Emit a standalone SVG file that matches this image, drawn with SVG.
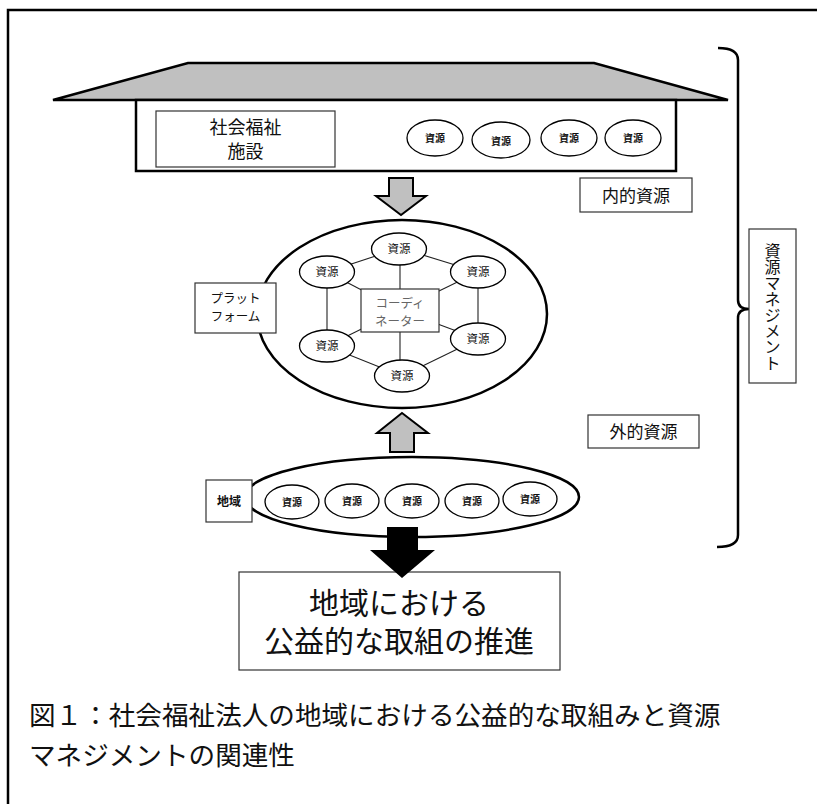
<svg xmlns="http://www.w3.org/2000/svg" width="817" height="804" viewBox="0 0 817 804">
<style>
text{font-family:"Liberation Serif","Noto Sans CJK JP",sans-serif;fill:#111;}
.thick{stroke:#000;stroke-width:2.5;fill:#fff;}
.box{stroke:#333;stroke-width:1.2;fill:#fff;}
.res{stroke:#000;stroke-width:1.3;fill:#fff;}
.rt{font-size:10px;text-anchor:middle;font-weight:bold;}
.rh{font-size:11.5px;text-anchor:middle;}
.line{stroke:#222;stroke-width:1.1;fill:none;}
.grey{fill:#c0c0c0;stroke:#000;stroke-width:2;stroke-linejoin:miter;}
.c{text-anchor:middle;}
</style>
<rect width="817" height="804" fill="#fff"/>
<path d="M8,804 L8,10 L817,10" fill="none" stroke="#000" stroke-width="2.5"/>

<g id="facility">
  <polygon points="53,100 188,63 594,63 728,100" fill="#c0c0c0" stroke="#000" stroke-width="2.5" stroke-linejoin="miter"/>
  <rect x="136" y="100" width="540" height="71" class="thick"/>
  <rect x="156" y="111" width="179" height="56" class="box"/>
  <text x="245.5" y="134" class="c" font-size="18">社会福祉</text>
  <text x="245.5" y="158" class="c" font-size="18">施設</text>
  <ellipse cx="435" cy="138" rx="28" ry="18" class="res"/>
  <text x="435" y="142" class="rt">資源</text>
  <ellipse cx="501" cy="140" rx="29" ry="18" class="res"/>
  <text x="501" y="145" class="rt">資源</text>
  <ellipse cx="569" cy="138" rx="28" ry="18" class="res"/>
  <text x="569" y="142" class="rt">資源</text>
  <ellipse cx="633" cy="138" rx="28" ry="18" class="res"/>
  <text x="633" y="142" class="rt">資源</text>
</g>

<g id="internal">
  <rect x="580" y="178" width="112" height="34" class="box"/>
  <text x="636" y="202" class="c" font-size="17">内的資源</text>
</g>

<g id="external">
  <rect x="588" y="415" width="111" height="33" class="box"/>
  <text x="643.5" y="438" class="c" font-size="17">外的資源</text>
</g>

<g id="bracket">
  <path d="M718,48 Q738,48 738,60 L738,300 Q738,309 749,309 Q738,309 738,318 L738,535 Q738,547 717,547" fill="none" stroke="#000" stroke-width="2.5"/>
</g>

<g id="management">
  <rect x="749" y="229" width="47" height="154" class="box"/>
  <text x="772.5 772.5 772.5 772.5 772.5 772.5 772.5 772.5" y="257 273 289 305 321 337 353 369" class="c" font-size="16">資源マネジメント</text>
</g>

<g id="platform">
  <ellipse cx="402" cy="314" rx="145" ry="94" class="thick"/>
</g>

<g id="connectors">
  <line x1="400" y1="248" x2="327" y2="272" class="line"/>
  <line x1="400" y1="248" x2="478" y2="272" class="line"/>
  <line x1="327" y1="272" x2="327" y2="346" class="line"/>
  <line x1="478" y1="272" x2="478" y2="339" class="line"/>
  <line x1="327" y1="346" x2="402" y2="376" class="line"/>
  <line x1="478" y1="339" x2="402" y2="376" class="line"/>
  <line x1="400" y1="248" x2="400" y2="376" class="line"/>
  <line x1="327" y1="272" x2="400" y2="310" class="line"/>
  <line x1="478" y1="272" x2="400" y2="310" class="line"/>
  <line x1="327" y1="346" x2="400" y2="310" class="line"/>
  <line x1="478" y1="339" x2="400" y2="310" class="line"/>
  <polygon points="389,178 413,178 413,196 426,196 401,215 376,196 389,196" class="grey"/>
  <polygon points="402,413 428,433 414,433 414,452 390,452 390,433 377,433" class="grey"/>
</g>

<g id="platform-label">
  <rect x="195" y="283" width="81" height="50" class="box"/>
  <text x="235.5" y="303" class="c" font-size="12.5" fill="#222">プラット</text>
  <text x="235.5" y="321" class="c" font-size="12.5" fill="#222">フォーム</text>
</g>

<g id="coordinator">
  <rect x="361" y="289" width="78" height="43" class="box"/>
  <text x="400" y="308" class="c" font-size="12.5" style="fill:#666">コーディ</text>
  <text x="400" y="326" class="c" font-size="12.5" style="fill:#666">ネーター</text>
</g>

<g id="hex-resources">
  <ellipse cx="399" cy="249" rx="27.5" ry="16" class="res"/>
  <text x="399" y="253" class="rh">資源</text>
  <ellipse cx="327" cy="272" rx="27.5" ry="16" class="res"/>
  <text x="327" y="276" class="rh">資源</text>
  <ellipse cx="478" cy="272" rx="27.5" ry="16" class="res"/>
  <text x="478" y="276" class="rh">資源</text>
  <ellipse cx="327" cy="346" rx="27.5" ry="16" class="res"/>
  <text x="327" y="350" class="rh">資源</text>
  <ellipse cx="478" cy="339" rx="27.5" ry="16" class="res"/>
  <text x="478" y="343" class="rh">資源</text>
  <ellipse cx="402" cy="376" rx="27.5" ry="16" class="res"/>
  <text x="402" y="380" class="rh">資源</text>
</g>

<g id="region">
  <ellipse cx="412" cy="497" rx="167" ry="40" class="thick"/>
  <rect x="206" y="480" width="46" height="42" class="box"/>
  <text x="229" y="506" class="c" font-size="12" font-weight="bold">地域</text>
  <ellipse cx="292" cy="502" rx="27" ry="17" class="res"/>
  <text x="292" y="506" class="rt">資源</text>
  <ellipse cx="352" cy="501" rx="27" ry="17" class="res"/>
  <text x="352" y="505" class="rt">資源</text>
  <ellipse cx="412" cy="501" rx="27" ry="17" class="res"/>
  <text x="412" y="505" class="rt">資源</text>
  <ellipse cx="472" cy="501" rx="27" ry="17" class="res"/>
  <text x="472" y="505" class="rt">資源</text>
  <ellipse cx="530" cy="499" rx="27" ry="17" class="res"/>
  <text x="530" y="503" class="rt">資源</text>
</g>

<g id="result">
  <rect x="239" y="572" width="321" height="98" class="box"/>
  <text x="399" y="614" class="c" font-size="30">地域における</text>
  <text x="399" y="652" class="c" font-size="30">公益的な取組の推進</text>
</g>

<g id="black-arrow">
  <polygon points="387,527 418,527 418,550 435,550 402,578 370,550 387,550" fill="#000"/>
</g>

<g id="caption">
  <text x="29" y="725" font-size="26.6">図１：社会福祉法人の地域における公益的な取組みと資源</text>
  <text x="29" y="765" font-size="26.6">マネジメントの関連性</text>
</g>
</svg>
